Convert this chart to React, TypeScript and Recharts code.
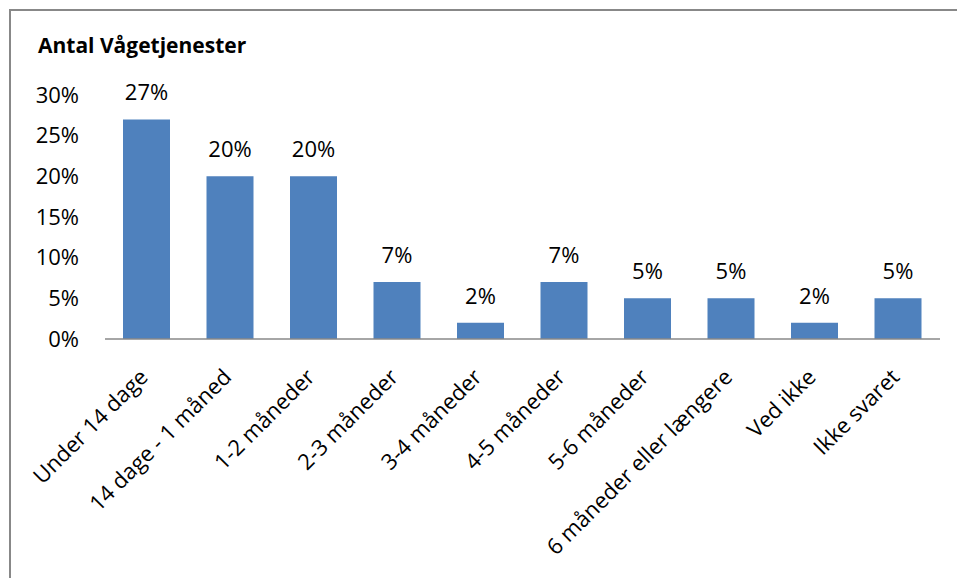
import React from "react";
import { BarChart, Bar, XAxis, YAxis, LabelList } from "recharts";

const categories = [
  "Under 14 dage",
  "14 dage - 1 måned",
  "1-2 måneder",
  "2-3 måneder",
  "3-4 måneder",
  "4-5 måneder",
  "5-6 måneder",
  "6 måneder eller længere",
  "Ved ikke",
  "Ikke svaret",
];
const values = [27, 20, 20, 7, 2, 7, 5, 5, 2, 5];
const yTicks = [0, 5, 10, 15, 20, 25, 30];
const title = "Antal Vågetjenester";

const data = categories.map((name, i) => ({ name, value: values[i] }));

const FONT = "'Open Sans', 'DejaVu Sans', sans-serif";

const XTick = (props: any) => {
  const { x, y, payload } = props;
  return (
    <g transform={`translate(${x - 11},${y + 26})`}>
      <text
        textAnchor="end"
        transform="rotate(-45)"
        dy={19}
        fontSize={22}
        fontFamily={FONT}
        fill="#000"
      >
        {payload.value}
      </text>
    </g>
  );
};

export default function App() {
  return (
    <div>
      <div
        style={{
          position: "absolute",
          left: 9,
          top: 9,
          width: 948,
          height: 569,
          boxSizing: "border-box",
          borderTop: "2px solid #888888",
          borderLeft: "2px solid #888888",
        }}
      />
      <div
        style={{
          position: "absolute",
          left: 38,
          top: 35,
          fontFamily: FONT,
          fontWeight: 700,
          fontSize: 21,
          lineHeight: "21px",
          color: "#000",
          whiteSpace: "nowrap",
        }}
      >
        {title}
      </div>
      <div style={{ position: "absolute", left: 0, top: 0, width: 957, height: 578 }}>
        <BarChart
          width={957}
          height={578}
          data={data}
          margin={{ top: 95, right: 17, bottom: 0, left: 0 }}
        >
          <XAxis
            dataKey="name"
            height={239}
            interval={0}
            tickSize={0}
            tickMargin={0}
            tick={<XTick />}
            axisLine={{ stroke: "#898989", strokeWidth: 1.5 }}
            tickLine={false}
          />
          <YAxis
            domain={[0, 30]}
            ticks={yTicks}
            width={105}
            axisLine={false}
            tickLine={false}
            tickSize={0}
            tickMargin={26}
            tickFormatter={(v: number) => `${v}%`}
            tick={{ fill: "#000", fontSize: 22, fontFamily: FONT }}
          />
          <Bar dataKey="value" fill="#4F81BD" barSize={47} isAnimationActive={false}>
            <LabelList
              dataKey="value"
              position="top"
              offset={19}
              formatter={(v: number) => `${v}%`}
              style={{ fill: "#000", fontSize: 22, fontFamily: FONT }}
            />
          </Bar>
        </BarChart>
      </div>
    </div>
  );
}
